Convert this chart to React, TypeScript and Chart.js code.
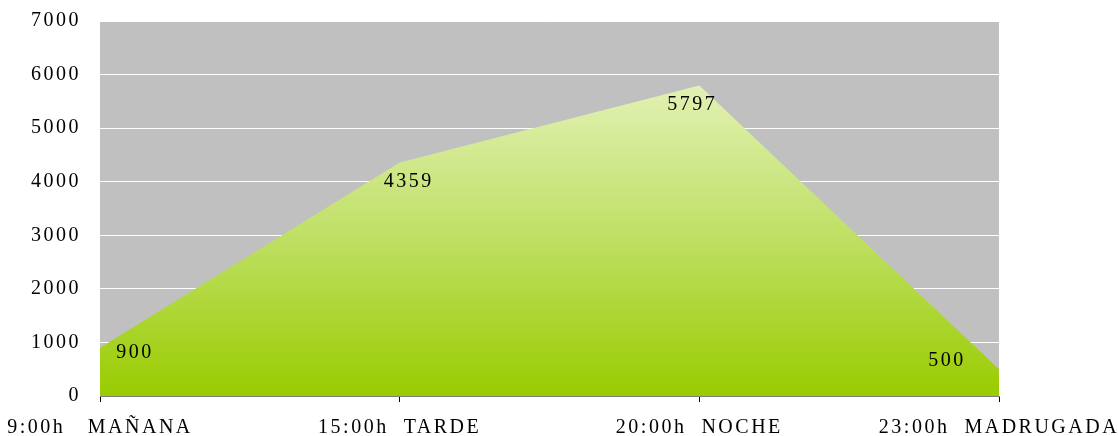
import React, { useEffect, useRef } from "react";
import { Chart, registerables } from "chart.js";

Chart.register(...registerables);

const categories = ["9:00h   MAÑANA", "15:00h  TARDE", "20:00h  NOCHE", "23:00h  MADRUGADA"];
const values = [900, 4359, 5797, 500];
const yTicks = [0, 1000, 2000, 3000, 4000, 5000, 6000, 7000];

const FONT = "'Liberation Serif', 'Times New Roman', serif";
const SPACING = "2.5px";

const labelOffsets = [
  { dx: 35, dy: 5 },
  { dx: 9, dy: 19 },
  { dx: -7, dy: 19 },
  { dx: -52, dy: -8 },
];

const bgPlugin = {
  id: "bgPlugin",
  beforeLayout(chart: any) {
    (chart.ctx as any).letterSpacing = SPACING;
  },
  beforeDraw(chart: any) {
    const { ctx, chartArea } = chart;
    (ctx as any).letterSpacing = SPACING;
    ctx.save();
    ctx.fillStyle = "#C0C0C0";
    ctx.fillRect(chartArea.left, chartArea.top, chartArea.right - chartArea.left, chartArea.bottom - chartArea.top);
    ctx.restore();
  },
  afterDatasetsDraw(chart: any) {
    const { ctx } = chart;
    const meta = chart.getDatasetMeta(0);
    ctx.save();
    (ctx as any).letterSpacing = SPACING;
    ctx.font = `20px ${FONT}`;
    ctx.fillStyle = "#000";
    ctx.textAlign = "center";
    ctx.textBaseline = "middle";
    meta.data.forEach((pt: any, i: number) => {
      const o = labelOffsets[i];
      ctx.fillText(String(values[i]), pt.x + o.dx, pt.y + o.dy);
    });
    ctx.restore();
  },
};

export default function App() {
  const ref = useRef<HTMLCanvasElement>(null);
  useEffect(() => {
    document.body.style.margin = "0";
    const canvas = ref.current!;
    const chart = new Chart(canvas, {
      type: "line",
      data: {
        labels: categories,
        datasets: [
          {
            data: values,
            fill: "origin",
            borderWidth: 0,
            borderColor: "rgba(0,0,0,0)",
            pointRadius: 0,
            tension: 0,
            backgroundColor: (c: any) => {
              const { chart } = c;
              const area = chart.chartArea;
              if (!area) return "#B8DC50";
              const ys = chart.scales.y;
              const top = ys.getPixelForValue(Math.max(...values));
              const g = chart.ctx.createLinearGradient(0, top, 0, area.bottom);
              g.addColorStop(0, "#E2F1B4");
              g.addColorStop(0.5, "#BEDF62");
              g.addColorStop(1, "#99CC00");
              return g;
            },
          },
        ],
      },
      options: {
        animation: false,
        responsive: false,
        maintainAspectRatio: false,
        layout: { padding: { top: 21, right: 119, left: 0, bottom: 0 } },
        plugins: { legend: { display: false }, tooltip: { enabled: false } },
        scales: {
          x: {
            offset: false,
            grid: {
              drawOnChartArea: false,
              drawTicks: true,
              tickLength: 6,
              color: "#000",
            },
            border: { display: true, color: "#808080", width: 1 },
            ticks: {
              color: "#000",
              font: { family: FONT, size: 20 },
              padding: 14,
              maxRotation: 0,
              autoSkip: false,
            },
            afterFit(scale: any) {
              scale.height = 40;
              scale.paddingLeft = 0;
              scale.paddingRight = 0;
              scale.paddingTop = 0;
              scale.paddingBottom = 0;
            },
          },
          y: {
            min: 0,
            max: 7000,
            grid: { color: "#FFFFFF", lineWidth: 1, drawTicks: false },
            border: { display: false },
            afterBuildTicks(scale: any) {
              scale.ticks = yTicks.map((v) => ({ value: v }));
            },
            ticks: {
              color: "#000",
              font: { family: FONT, size: 20 },
              padding: 19,
              callback: (v: any) => String(v),
            },
            afterFit(scale: any) {
              scale.width = 100;
              scale.paddingLeft = 0;
              scale.paddingRight = 0;
              scale.paddingTop = 0;
              scale.paddingBottom = 0;
            },
          },
        },
      },
      plugins: [bgPlugin],
    });
    return () => chart.destroy();
  }, []);
  return <canvas ref={ref} width={1118} height={436} style={{ display: "block" }} />;
}
